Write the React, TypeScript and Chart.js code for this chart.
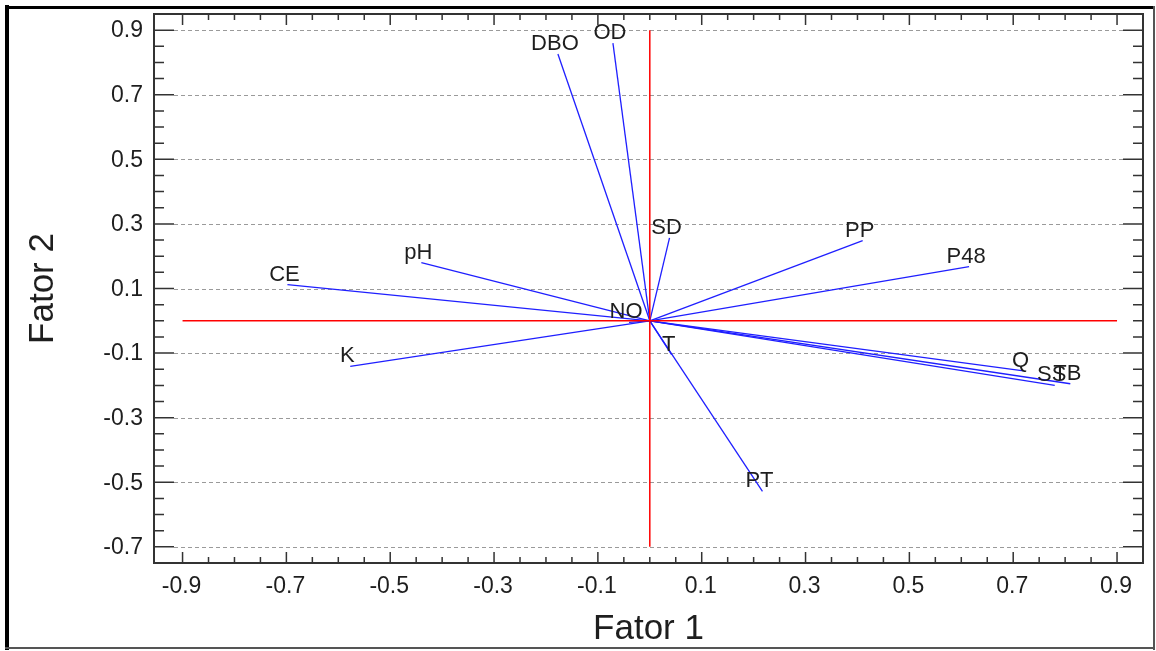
import React, { useEffect, useRef } from "react";
import { Chart, registerables } from "chart.js";

Chart.register(...registerables);

const VAR_LABELS = ["DBO", "OD", "SD", "PP", "P48", "CE", "pH", "NO", "K", "T", "PT", "Q", "SS", "TB"];
const FATOR1 = [-0.177, -0.071, 0.038, 0.41, 0.615, -0.698, -0.44, -0.04, -0.577, 0.042, 0.217, 0.72, 0.78, 0.81];
const FATOR2 = [0.826, 0.86, 0.257, 0.248, 0.168, 0.112, 0.18, -0.005, -0.141, -0.105, -0.528, -0.155, -0.2, -0.195];

const X_TICKS = [-0.9, -0.7, -0.5, -0.3, -0.1, 0.1, 0.3, 0.5, 0.7, 0.9];
const Y_TICKS = [-0.7, -0.5, -0.3, -0.1, 0.1, 0.3, 0.5, 0.7, 0.9];
const X_TICK_LABELS = ["-0.9", "-0.7", "-0.5", "-0.3", "-0.1", "0.1", "0.3", "0.5", "0.7", "0.9"];
const Y_TICK_LABELS = ["-0.7", "-0.5", "-0.3", "-0.1", "0.1", "0.3", "0.5", "0.7", "0.9"];
const X_MINOR_STEP = 0.05;
const Y_MINOR_STEP = 0.05;
const X_TITLE = "Fator 1";
const Y_TITLE = "Fator 2";

const RED_H = [{ x: -0.9, y: 0 }, { x: 0.9, y: 0 }];
const RED_V = [{ x: 0, y: 0.9 }, { x: 0, y: -0.7 }];

const FONT = "'Liberation Sans', Arial, sans-serif";

const framePlugin = {
  id: "framePlugin",
  beforeDatasetsDraw(chart: any) {
    const { ctx, chartArea: a, scales } = chart;
    const ys = scales.y;
    ctx.save();
    ctx.strokeStyle = "#9a9a9a";
    ctx.lineWidth = 1;
    ctx.setLineDash([4, 3]);
    Y_TICKS.forEach((v) => {
      const y = Math.round(ys.getPixelForValue(v)) + 0.5;
      ctx.beginPath();
      ctx.moveTo(a.left + 20, y);
      ctx.lineTo(a.right - 20, y);
      ctx.stroke();
    });
    ctx.restore();
  },
  afterDatasetsDraw(chart: any) {
    const { ctx, chartArea: a, scales } = chart;
    const xs = scales.x, ys = scales.y;
    ctx.save();
    // vector labels
    ctx.fillStyle = "#1e1e1e";
    ctx.font = `22px ${FONT}`;
    ctx.textAlign = "center";
    ctx.textBaseline = "alphabetic";
    VAR_LABELS.forEach((lab, i) => {
      const meta = chart.getDatasetMeta(i + 2);
      const p = meta.data[1];
      ctx.fillText(lab, p.x - 3, p.y - 4);
    });
    // plot frame
    ctx.strokeStyle = "#333";
    ctx.lineWidth = 2;
    ctx.strokeRect(a.left, a.top, a.right - a.left, a.bottom - a.top);
    // ticks
    ctx.lineWidth = 1.5;
    const near = (v: number, arr: number[]) => arr.some((t) => Math.abs(t - v) < 1e-6);
    const xmin = xs.min, xmax = xs.max, ymin = ys.min, ymax = ys.max;
    for (let k = Math.ceil(xmin / X_MINOR_STEP); k * X_MINOR_STEP <= xmax; k++) {
      const v = k * X_MINOR_STEP;
      const x = xs.getPixelForValue(v);
      if (x < a.left + 3 || x > a.right - 3) continue;
      const len = near(v, X_TICKS) ? 11 : 6;
      ctx.beginPath();
      ctx.moveTo(x, a.bottom);
      ctx.lineTo(x, a.bottom - len);
      ctx.moveTo(x, a.top);
      ctx.lineTo(x, a.top + len);
      ctx.stroke();
    }
    for (let k = Math.ceil(ymin / Y_MINOR_STEP); k * Y_MINOR_STEP <= ymax; k++) {
      const v = k * Y_MINOR_STEP;
      const y = ys.getPixelForValue(v);
      if (y < a.top + 3 || y > a.bottom - 3) continue;
      const len = near(v, Y_TICKS) ? 20 : 10;
      ctx.beginPath();
      ctx.moveTo(a.left, y);
      ctx.lineTo(a.left + len, y);
      ctx.moveTo(a.right, y);
      ctx.lineTo(a.right - len, y);
      ctx.stroke();
    }
    // tick labels
    ctx.fillStyle = "#1e1e1e";
    ctx.font = `23px ${FONT}`;
    ctx.textAlign = "center";
    ctx.textBaseline = "alphabetic";
    X_TICKS.forEach((v, i) => {
      ctx.fillText(X_TICK_LABELS[i], xs.getPixelForValue(v) - 1, a.bottom + 30);
    });
    ctx.textAlign = "right";
    ctx.textBaseline = "middle";
    Y_TICKS.forEach((v, i) => {
      ctx.fillText(Y_TICK_LABELS[i], a.left - 11, ys.getPixelForValue(v) + 1);
    });
    // titles
    ctx.font = `35px ${FONT}`;
    ctx.textAlign = "center";
    ctx.textBaseline = "middle";
    ctx.fillText(X_TITLE, (a.left + a.right) / 2, 629);
    ctx.save();
    ctx.translate(43, (a.top + a.bottom) / 2);
    ctx.rotate(-Math.PI / 2);
    ctx.fillText(Y_TITLE, 0, 0);
    ctx.restore();
    // outer frame
    ctx.fillStyle = "#000";
    ctx.fillRect(5, 5, 4, 645);
    ctx.fillRect(5, 6, 1150, 3);
    ctx.fillStyle = "#555";
    ctx.fillRect(1153, 6, 2, 644);
    ctx.fillRect(5, 647, 1150, 2);
    ctx.restore();
  },
};

export default function App() {
  const ref = useRef<HTMLCanvasElement | null>(null);
  useEffect(() => {
    if (!ref.current) return;
    const vectorSets = VAR_LABELS.map((lab, i) => ({
      label: lab,
      data: [{ x: 0, y: 0 }, { x: FATOR1[i], y: FATOR2[i] }],
      showLine: true,
      borderColor: "#1f1fff",
      borderWidth: 1.3,
      pointRadius: 0,
      fill: false,
    }));
    const chart = new Chart(ref.current, {
      type: "scatter",
      data: {
        datasets: [
          { label: "h", data: RED_H, showLine: true, borderColor: "#ff0000", borderWidth: 1.5, pointRadius: 0 },
          { label: "v", data: RED_V, showLine: true, borderColor: "#ff0000", borderWidth: 1.5, pointRadius: 0 },
          ...vectorSets,
        ] as any,
      },
      options: {
        responsive: false,
        animation: false,
        layout: { padding: { left: 154, right: 13, top: 14, bottom: 88 } },
        plugins: { legend: { display: false }, tooltip: { enabled: false } },
        scales: {
          x: { type: "linear", min: -0.955, max: 0.95, display: false },
          y: { type: "linear", min: -0.75, max: 0.95, display: false },
        },
      },
      plugins: [framePlugin],
    });
    return () => chart.destroy();
  }, []);
  return (
    <div style={{ position: "fixed", left: 0, top: 0, width: 1156, height: 651, background: "#fff" }}>
      <canvas ref={ref} width={1156} height={651} style={{ display: "block" }} />
    </div>
  );
}
